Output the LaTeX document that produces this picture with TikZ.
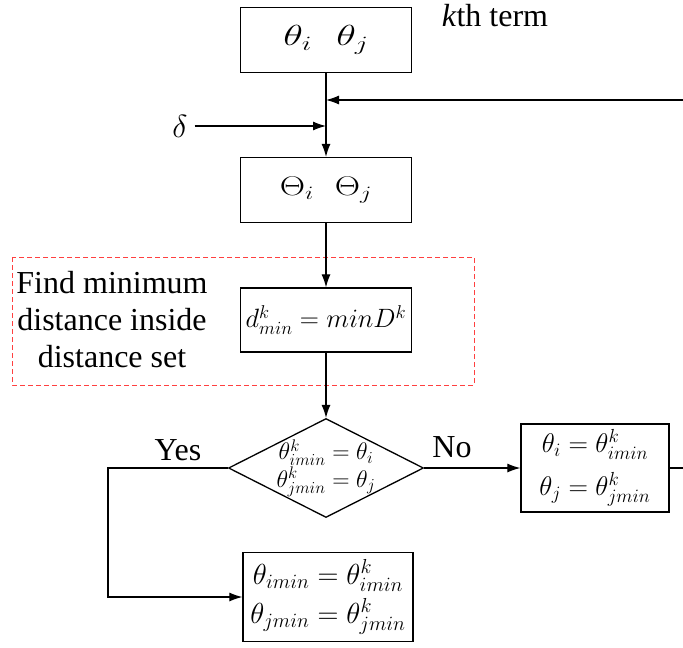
\RequirePackage{fix-cm}
\documentclass[tikz,border=0pt]{standalone}
\usepackage{graphicx}
\usepackage[no-math]{fontspec}
\setmainfont{Liberation Serif}
\usetikzlibrary{arrows.meta,shapes.geometric}

\begin{document}
\begin{tikzpicture}[x=1pt,y=-1pt,
  box/.style={draw,line width=1.3pt,inner sep=0pt,align=center},
  arr/.style={-{Latex[length=13pt,width=9pt]},line width=1.1pt},
  ln/.style={line width=1.1pt},
  txt/.style={font=\fontsize{32}{37}\selectfont,inner sep=0pt,align=center}]
\useasboundingbox (0,0) rectangle (683,648);

% BOXES
 \node[box,minimum width=171pt,minimum height=65pt,font=\fontsize{29}{30}\selectfont] (tt) at (326,40) {\scalebox{1.4}[1]{$\theta_i\hspace{0.6em}\theta_j$}};
 \node[box,minimum width=171pt,minimum height=65pt,font=\fontsize{27}{30}\selectfont] (TT) at (326,190) {\scalebox{1.3}[1]{$\Theta_i\hspace{0.6em}\Theta_j$}};
 \node[box,minimum width=171pt,minimum height=64pt,font=\fontsize{26.5}{30}\selectfont] (dmin) at (326,320) {$d^k_{min}=minD^k$};
 \node[draw,diamond,line width=1.3pt,inner sep=0pt,minimum width=195pt,minimum height=99pt,
   label={[font=\fontsize{24}{25}\selectfont,align=center]center:$\theta^k_{imin}=\theta_i$\\$\theta^k_{jmin}=\theta_j$}] (dec) at (326,468) {};
 \node[box,minimum width=148pt,minimum height=88pt,font=\fontsize{27}{43}\selectfont] (upd) at (595,468) {$\theta_i=\theta^k_{imin}$\\$\theta_j=\theta^k_{jmin}$};
 \node[box,minimum width=170pt,minimum height=89pt,font=\fontsize{29}{39}\selectfont] (res) at (328,597) {$\theta_{imin}=\theta^k_{imin}$\\$\theta_{jmin}=\theta^k_{jmin}$};

% NOTES
 \draw[red!75,dashed,line width=0.8pt,dash pattern=on 5pt off 3pt] (12,257) rectangle (474,385);
 \node[txt] (note) at (112,320) {Find minimum\\distance inside\\distance set};
 \node[txt] (kth) at (495,16) {\textit{k}th term};
 \node[txt] (dl) at (180,126) {$\delta$};
 \node[txt] (yes) at (178,450) {Yes};
 \node[txt] (no) at (452,447) {No};

% ARROWS
 \coordinate (fb) at (683,100);
 \coordinate (re) at (683,468);
 \coordinate (yc) at (108,468);
 \draw[arr] (tt.south) -- (TT.north);
 \draw[arr] (fb) -- (fb -| tt.south);
 \draw[arr] ([xshift=7pt]dl.east) -- (dl -| tt.south);
 \draw[arr] (TT.south) -- (dmin.north);
 \draw[arr] (dmin.south) -- (dec.north);
 \draw[arr] (dec.east) -- (upd.west);
 \draw[ln] (upd.east) -- (re);
 \draw[arr] (dec.west) -- (yc) |- (res.west);

\end{tikzpicture}
\end{document}
